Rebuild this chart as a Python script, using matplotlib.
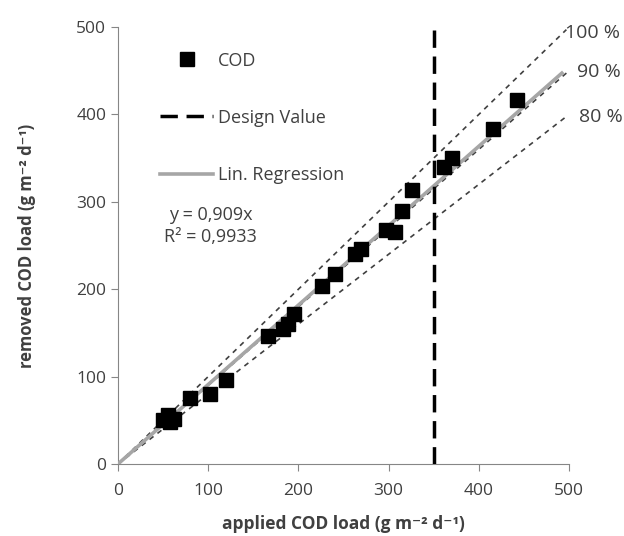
import matplotlib
matplotlib.use("Agg")
import matplotlib.pyplot as plt
from matplotlib.lines import Line2D
import numpy as np

# applied vs removed COD load (g m-2 d-1)
applied = [50, 55, 58, 62, 80, 102, 120, 166, 183, 188, 195, 226, 241, 263,
           269, 297, 307, 315, 326, 361, 370, 416, 442]
removed = [50, 56, 48, 52, 76, 80, 96, 146, 155, 160, 172, 204, 217, 240,
           246, 268, 266, 290, 313, 340, 350, 383, 417]

design_value = 350
efficiencies = [1.0, 0.9, 0.8]
eff_labels = ["100 %", "90 %", "80 %"]
slope = 0.909
r2_text = "0,9933"

plt.rcParams['font.family'] = ['Open Sans', 'DejaVu Sans']
plt.rcParams['font.size'] = 12

fig = plt.figure(figsize=(6.24, 5.36), dpi=100)
ax = fig.add_axes([0.189, 0.1343, 0.723, 0.8153])

# efficiency reference lines
x_ref = np.array([0, 497])
for eff in efficiencies:
    ax.plot(x_ref, eff * x_ref, color='#404040', lw=1.2, ls=(0, (3, 3)), zorder=2)

# regression line
x_reg = np.array([0, 492])
ax.plot(x_reg, slope * x_reg, color='#a6a6a6', lw=2.6, zorder=3)

# design value
ax.plot([design_value, design_value], [0, 497], color='black', lw=2.5,
        ls=(0, (5, 2.5)), zorder=3)

# data
ax.plot(applied, removed, 's', color='black', markersize=10.5, zorder=4)

# efficiency labels
label_x = [496, 509, 511]
label_y = [493, 448, 397]
for lab, lx, ly in zip(eff_labels, label_x, label_y):
    ax.text(lx, ly, lab, fontsize=14, color='#404040',
            va='center', ha='left', clip_on=False)

ax.set_xlim(0, 500)
ax.set_ylim(0, 500)
ax.set_xticks(range(0, 501, 100))
ax.set_yticks(range(0, 501, 100))

for side in ['top', 'right']:
    ax.spines[side].set_visible(False)
for side in ['left', 'bottom']:
    ax.spines[side].set_color('#868686')
ax.tick_params(colors='#868686', labelcolor='#404040', length=5, labelsize=12.5)
ax.tick_params(axis='x', pad=9)

ax.set_xlabel('applied COD load (g m\u207b\u00b2 d\u207b\u00b9)', fontweight='bold',
              fontsize=12.5, color='#404040', labelpad=11)
ax.set_ylabel('removed COD load (g m\u207b\u00b2 d\u207b\u00b9)', fontweight='bold',
              fontsize=12, color='#404040', labelpad=29)

# legend
handles = [Line2D([], [], marker='s', color='black', ls='none', markersize=10.5),
           Line2D([], [], color='black', lw=2.5, ls=(0, (5, 2.5))),
           Line2D([], [], color='#a6a6a6', lw=2.6)]
labels = ['COD', 'Design Value', 'Lin. Regression']
leg = ax.legend(handles, labels, loc='upper left', bbox_to_anchor=(0.058, 0.981),
                frameon=False, fontsize=13, handlelength=2.9, handletextpad=0.3,
                labelspacing=2.17)
for t in leg.get_texts():
    t.set_color('#404040')

ax.text(0.206, 0.590, 'y = 0,909x\nR\u00b2 = ' + r2_text, transform=ax.transAxes,
        ha='center', va='top', fontsize=13, color='#404040', linespacing=1.3)

fig.savefig('out.png', dpi=100)
